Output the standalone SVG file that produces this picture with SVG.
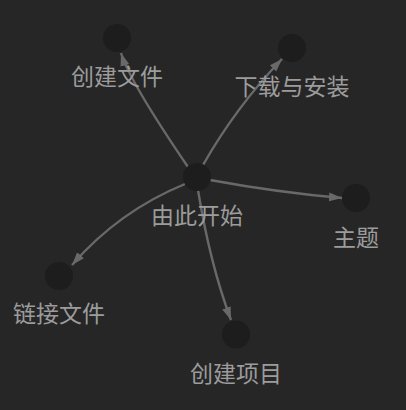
<svg xmlns="http://www.w3.org/2000/svg" width="406" height="410" viewBox="0 0 406 410">
<style>
.bg{fill:#262626}
.link{fill:none;stroke:#696969;stroke-width:2.4}
.node{fill:#1d1d1d}
.label{font-family:"Noto Sans CJK SC","Noto Sans",sans-serif;font-size:23px;fill:#9c9c9c;text-anchor:middle}
</style>
<defs>
<marker id="arrow" markerUnits="userSpaceOnUse" markerWidth="15" markerHeight="10" refX="13" refY="4.5" orient="auto">
<path d="M0,0 L13,4.5 L0,9 z" fill="#696969"/>
</marker>
</defs>
<rect class="bg" width="406" height="410"/>
<g id="links">
<path class="link" marker-end="url(#arrow)" d="M188,167 Q130,82 121,53"/>
<path class="link" marker-end="url(#arrow)" d="M203,165 Q236,107 282,59"/>
<path class="link" marker-end="url(#arrow)" d="M185,184 Q119,211 72,265"/>
<path class="link" marker-end="url(#arrow)" d="M198,190 Q210,264 231,320"/>
<path class="link" marker-end="url(#arrow)" d="M210,180 Q278,192.5 342,198"/>
</g>
<g id="node-start"><circle class="node" cx="197" cy="177" r="14"/><text class="label" x="197" y="224">由此开始</text></g>
<g id="node-create-file"><circle class="node" cx="117" cy="38" r="14"/><text class="label" x="117" y="85">创建文件</text></g>
<g id="node-install"><circle class="node" cx="292" cy="48" r="14"/><text class="label" x="292" y="95">下载与安装</text></g>
<g id="node-theme"><circle class="node" cx="356" cy="198" r="14"/><text class="label" x="356" y="246">主题</text></g>
<g id="node-link-file"><circle class="node" cx="59" cy="276" r="14"/><text class="label" x="59" y="322">链接文件</text></g>
<g id="node-create-project"><circle class="node" cx="236" cy="334.5" r="14"/><text class="label" x="236" y="382">创建项目</text></g>
</svg>
